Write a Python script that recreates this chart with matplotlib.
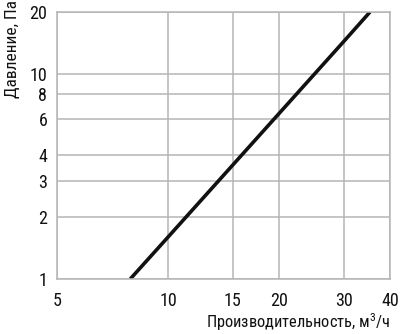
import matplotlib
matplotlib.use("Agg")
import matplotlib.pyplot as plt
from matplotlib.ticker import FixedLocator, FixedFormatter, NullLocator

flow = [7.9, 10, 15, 20, 30, 35.3]
pressure = [1.0, 1.6, 3.6, 6.4, 14.4, 20.0]
xticks = [5, 10, 15, 20, 30, 40]
yticks = [1, 2, 3, 4, 6, 8, 10, 20]
xlabel = "Производительность, м$^3$/ч"
ylabel = "Давление, Па"

plt.rcParams['font.family'] = ['Roboto Condensed', 'Liberation Sans Narrow', 'Roboto', 'DejaVu Sans']
plt.rcParams['mathtext.fontset'] = 'custom'
plt.rcParams['mathtext.rm'] = 'Roboto Condensed'
plt.rcParams['mathtext.it'] = 'Roboto Condensed'
fig = plt.figure(figsize=(4.0, 3.34), dpi=100)
ax = fig.add_axes([57/400, 1-279/334, (390-57)/400, (279-12)/334])
ax.set_xscale('log')
ax.set_yscale('log')
ax.set_xlim(5, 40)
ax.set_ylim(1, 20)
ax.plot(flow, pressure, color='#111111', lw=2.6, solid_capstyle='butt')

ax.xaxis.set_major_locator(FixedLocator(xticks))
ax.xaxis.set_major_formatter(FixedFormatter([str(t) for t in xticks]))
ax.xaxis.set_minor_locator(NullLocator())
ax.yaxis.set_major_locator(FixedLocator(yticks))
ax.yaxis.set_major_formatter(FixedFormatter([str(t) for t in yticks]))
ax.yaxis.set_minor_locator(NullLocator())
ax.tick_params(length=0, labelsize=13, pad=9, colors='#111111')
ax.tick_params(axis='y', pad=7)
ax.grid(True, color='#b5b5b5', lw=1.1)
for s in ax.spines.values():
    s.set_color('#b5b5b5')
    s.set_linewidth(1.1)

fig.text(390/400, 1-322/334, xlabel, ha='right', va='center', fontsize=11.8, color='#111111')
fig.text(13/400, 1-0/334, ylabel, ha='center', va='top', rotation=90, fontsize=12.5, color='#111111')

fig.savefig('out.png', dpi=100)
